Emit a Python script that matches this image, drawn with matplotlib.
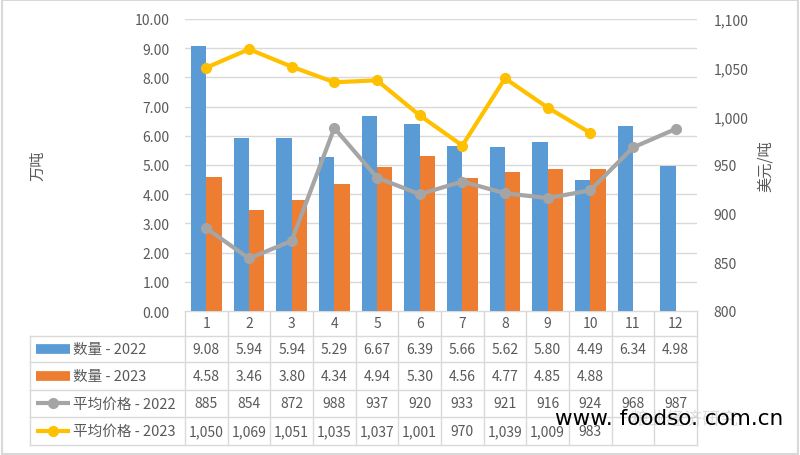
import matplotlib
matplotlib.use("Agg")
import matplotlib.pyplot as plt
import numpy as np
from matplotlib.patches import Rectangle

plt.rcParams["font.family"] = ["Noto Sans CJK SC", "DejaVu Sans"]

# ---------------------------------------------------------------------------
# Data
# ---------------------------------------------------------------------------
months = ["1", "2", "3", "4", "5", "6", "7", "8", "9", "10", "11", "12"]
qty_2022 = [9.08, 5.94, 5.94, 5.29, 6.67, 6.39, 5.66, 5.62, 5.80, 4.49, 6.34, 4.98]
qty_2023 = [4.58, 3.46, 3.80, 4.34, 4.94, 5.30, 4.56, 4.77, 4.85, 4.88, None, None]
price_2022 = [885, 854, 872, 988, 937, 920, 933, 921, 916, 924, 968, 987]
price_2023 = [1050, 1069, 1051, 1035, 1037, 1001, 970, 1039, 1009, 983, None, None]

series_names = ["数量 - 2022", "数量 - 2023", "平均价格 - 2022", "平均价格 - 2023"]
left_ticks = [0, 1, 2, 3, 4, 5, 6, 7, 8, 9, 10]
right_ticks = [800, 850, 900, 950, 1000, 1050, 1100]

BLUE = "#5B9BD5"
ORANGE = "#ED7D31"
GRAY = "#A5A5A5"
GOLD = "#FFC000"
TXT = "#595959"
GRID = "#D9D9D9"

W, H = 800, 456
PL, PR, PT, PB = 185, 697, 20, 312  # plot area in pixels
TL = 30                               # table left edge
ROWS = [312, 337, 363, 391, 418, 446]  # category row + 4 series rows

fig = plt.figure(figsize=(W / 100, H / 100), dpi=100)
ax = fig.add_axes([PL / W, 1 - PB / H, (PR - PL) / W, (PB - PT) / H])
x = np.arange(1, len(months) + 1)
bw = 0.36

q22 = np.array([np.nan if v is None else v for v in qty_2022], dtype=float)
q23 = np.array([np.nan if v is None else v for v in qty_2023], dtype=float)
p22 = np.array([np.nan if v is None else v for v in price_2022], dtype=float)
p23 = np.array([np.nan if v is None else v for v in price_2023], dtype=float)

ax.bar(x - bw / 2, q22, bw, color=BLUE, zorder=3)
ax.bar(x + bw / 2, q23, bw, color=ORANGE, zorder=3)
ax.set_xlim(0.5, 12.5)
ax.set_ylim(0, 10)
ax.set_yticks(left_ticks)
ax.set_yticklabels([f"{v:.2f}" for v in left_ticks])
ax.set_xticks([])
ax.grid(axis="y", color=GRID, linewidth=1, zorder=0)
for s in ax.spines.values():
    s.set_visible(False)
ax.tick_params(axis="y", length=0, pad=11, labelsize=10, colors=TXT)
ax.set_ylabel("万吨", color=TXT, fontsize=11, labelpad=64)

ax2 = ax.twinx()
ax2.plot(x, p22, color=GRAY, linewidth=3, marker="o", markersize=7, zorder=4)
ax2.plot(x, p23, color=GOLD, linewidth=3, marker="o", markersize=7, zorder=4)
ax2.set_ylim(800, 1100)
ax2.set_yticks(right_ticks)
ax2.set_yticklabels([f"{v:,}" for v in right_ticks])
for s in ax2.spines.values():
    s.set_visible(False)
ax2.tick_params(axis="y", length=0, pad=12, labelsize=10, colors=TXT)
ax2.set_ylabel("美元/吨", color=TXT, fontsize=11, labelpad=6)

# ---------------------------------------------------------------------------
# Data table drawn in pixel coordinates
# ---------------------------------------------------------------------------
tab = fig.add_axes([0, 0, 1, 1], zorder=-1)
tab.set_xlim(0, W)
tab.set_ylim(H, 0)
tab.axis("off")

cw = (PR - PL) / len(months)
lc = dict(color=GRID, linewidth=1)
tab.plot([PL, PR], [ROWS[0], ROWS[0]], **lc)
for y in ROWS[1:]:
    tab.plot([TL, PR], [y, y], **lc)
for i in range(len(months) + 1):
    tab.plot([PL + i * cw] * 2, [ROWS[0], ROWS[-1]], **lc)
tab.plot([TL, TL], [ROWS[1], ROWS[-1]], **lc)

for i, m in enumerate(months):
    tab.text(PL + (i + 0.5) * cw, (ROWS[0] + ROWS[1]) / 2, m, ha="center",
             va="center", fontsize=10, color=TXT)

fmt = [lambda v: f"{v:.2f}", lambda v: f"{v:.2f}",
       lambda v: f"{v:,}", lambda v: f"{v:,}"]
for r, vals in enumerate([qty_2022, qty_2023, price_2022, price_2023]):
    yc = (ROWS[r + 1] + ROWS[r + 2]) / 2
    for i, v in enumerate(vals):
        if v is None:
            continue
        tab.text(PL + (i + 0.5) * cw, yc, fmt[r](v), ha="center", va="center",
                 fontsize=10, color=TXT)
    tab.text(73, yc, series_names[r], ha="left", va="center", fontsize=10.5,
             color=TXT)

# legend keys
keys = [(BLUE, 7, None), (ORANGE, 7, None), (GRAY, 3, "o"), (GOLD, 3, "o")]
for r, (c, lw, mk) in enumerate(keys):
    yc = (ROWS[r + 1] + ROWS[r + 2]) / 2
    tab.plot([36, 70], [yc, yc], color=c, linewidth=lw, solid_capstyle="butt")
    if mk:
        tab.plot([53], [yc], marker=mk, color=c, markersize=7)

# watermark
tab.text(630, 420, "粮业经济研究", fontsize=13, color="#C8C8C8", alpha=0.6,
         ha="left", va="center")
tab.text(555, 419, "www. foodso. com.cn", fontsize=15.5, color="black",
         family="DejaVu Sans", ha="left", va="center", zorder=10)

fig.patches.append(Rectangle((0.002, 0.003), 0.996, 0.994, transform=fig.transFigure,
                             fill=False, edgecolor=GRID, linewidth=1.5))

fig.savefig("out.png", dpi=100)
